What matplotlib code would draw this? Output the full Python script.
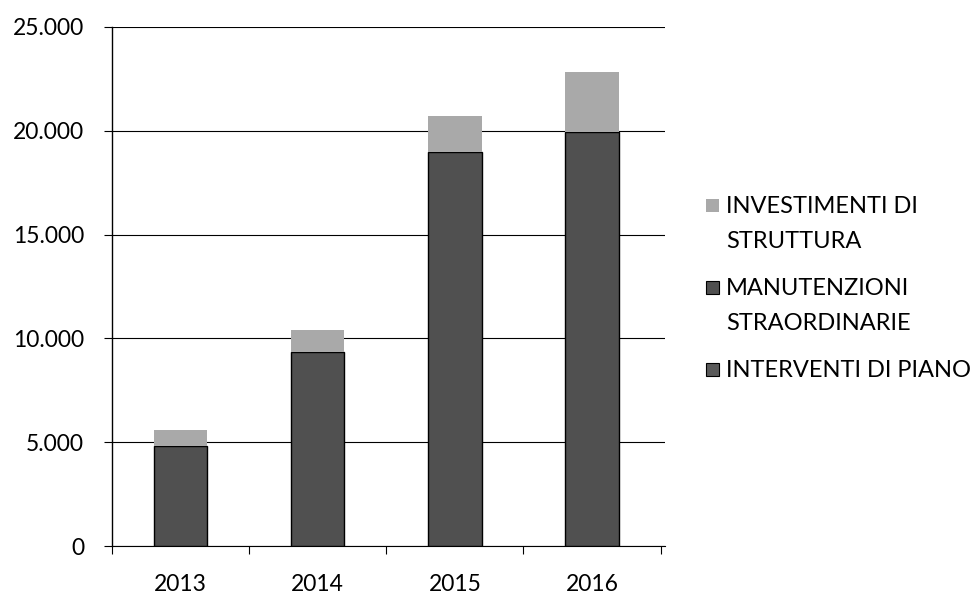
import matplotlib.pyplot as plt
from matplotlib.patches import Rectangle
import numpy as np

plt.rcParams['font.family'] = ['Lato', 'DejaVu Sans']

# dati per anno (migliaia di euro)
anni = ['2013', '2014', '2015', '2016']
interventi_piano = [0, 0, 0, 0]
manutenzioni = [4800, 9350, 18950, 19950]
investimenti = [800, 1050, 1750, 2850]

x = np.arange(len(anni))
larg = 0.39
W, H = 972, 595

fig = plt.figure(figsize=(W / 100, H / 100), dpi=100)
ax = fig.add_axes([0.115, 0.082, 0.569, 0.873])

serie = [
    (interventi_piano, '#5a5a5a', 'black', ['INTERVENTI DI PIANO']),
    (manutenzioni, '#505050', 'black', ['MANUTENZIONI', 'STRAORDINARIE']),
    (investimenti, '#a9a9a9', 'none', ['INVESTIMENTI DI', 'STRUTTURA']),
]

base = np.zeros(len(anni))
for valori, colore, bordo, _ in serie:
    ax.bar(x, valori, larg, bottom=base, color=colore, edgecolor=bordo,
           linewidth=1.0, zorder=3)
    base = base + np.array(valori)

ax.set_xlim(-0.47, 3.53)
ax.set_ylim(0, 25000)
ax.set_yticks(range(0, 25001, 5000))
ax.set_yticklabels(['0', '5.000', '10.000', '15.000', '20.000', '25.000'])
ax.set_xticks(x)
ax.set_xticklabels(anni)
ax.set_xticks(np.arange(-0.5, 4, 1), minor=True)
ax.tick_params(axis='x', which='major', length=0, pad=20, labelsize=16.5)
ax.tick_params(axis='x', which='minor', length=6, width=0.8, direction='out')
ax.tick_params(axis='y', length=6, width=0.8, pad=14, labelsize=16.5)

ax.grid(axis='y', color='black', linewidth=0.8, zorder=0)
for s in ['top', 'right']:
    ax.spines[s].set_visible(False)
ax.spines['left'].set_linewidth(1.0)
ax.spines['bottom'].set_linewidth(0.8)

# legenda a destra, quadratino allineato alla prima riga
y0 = 205
for _, colore, bordo, righe in reversed(serie):
    fig.patches.append(Rectangle(((706) / W, 1 - (y0 + 6.5) / H), 13 / W, 13 / H,
                                 transform=fig.transFigure, facecolor=colore,
                                 edgecolor=bordo, linewidth=0.8))
    for i, riga in enumerate(righe):
        fig.text(726 / W, 1 - (y0 + 8 + 35 * i) / H, riga, fontsize=17,
                 va='baseline', ha='left')
    y0 += 82

fig.savefig('out.png', dpi=100)
